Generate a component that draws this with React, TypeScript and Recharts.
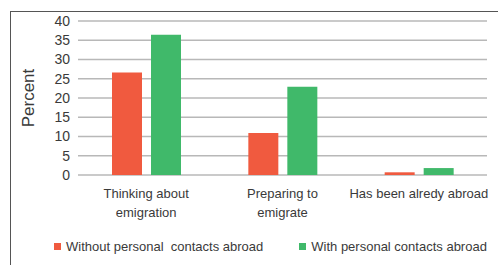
import React from 'react';
import { BarChart, Bar, XAxis, YAxis, CartesianGrid, Legend } from 'recharts';

const categories = ['Thinking about emigration', 'Preparing to emigrate', 'Has been alredy abroad'];
const categoryLines = [['Thinking about', 'emigration'], ['Preparing to', 'emigrate'], ['Has been alredy abroad']];
const withoutContacts = [26.6, 10.9, 0.7];
const withContacts = [36.4, 22.9, 1.8];
const yTicks = [0, 5, 10, 15, 20, 25, 30, 35, 40];

const seriesNames = ['Without personal  contacts abroad', 'With personal contacts abroad'];
const RED = '#f05a3f';
const GREEN = '#40b96a';
const FONT = '"Liberation Sans", Arial, sans-serif';
const TEXT = '#3a3a3a';

const chartData = categories.map((c, i) => ({
  category: c,
  without: withoutContacts[i],
  with: withContacts[i],
}));

function CategoryTick({ x, y, payload }: any) {
  const idx = categories.indexOf(payload.value);
  const lines = categoryLines[idx] || [payload.value];
  return (
    <text x={x} y={y} textAnchor="middle" fill={TEXT} fontSize={13} fontFamily={FONT}>
      {lines.map((l, i) => (
        <tspan key={i} x={x} dy={i === 0 ? 15 : 19}>{l}</tspan>
      ))}
    </text>
  );
}

function PercentLabel({ viewBox }: any) {
  const cx = viewBox.x + 0;
  const cy = viewBox.y + viewBox.height / 2;
  return (
    <text x={cx} y={cy} transform={`rotate(-90 ${cx} ${cy})`} textAnchor="middle" dominantBaseline="central"
      fill={TEXT} fontSize={17} fontFamily={FONT}>
      Percent
    </text>
  );
}

function LegendContent({ payload }: any) {
  const items = [...(payload || [])].sort((a: any, b: any) => seriesNames.indexOf(a.value) - seriesNames.indexOf(b.value));
  return (
    <div style={{ display: 'flex', height: 24, alignItems: 'center', paddingLeft: 26, gap: 36, fontFamily: FONT, fontSize: 13, color: TEXT }}>
      {items.map((p: any) => (
        <div key={p.value} style={{ display: 'flex', alignItems: 'center', whiteSpace: 'pre' }}>
          <span style={{ display: 'inline-block', width: 7, height: 7, background: p.color, marginRight: 5 }} />
          {p.value}
        </div>
      ))}
    </div>
  );
}

export default function App() {
  return (
    <div style={{ position: 'absolute', left: 0, top: 0, width: 498, height: 265, background: '#fff', overflow: 'hidden' }}>
      <div style={{ position: 'absolute', left: 10, top: 11, width: 500, height: 270, borderLeft: '1px solid #555', borderTop: '1px solid #555' }} />
      <BarChart width={498} height={265} data={chartData} margin={{ top: 21, right: 11, bottom: 7, left: 28 }}
        barSize={30} barGap={9} style={{ position: 'absolute', left: 0, top: 0 }}>
        <CartesianGrid vertical={false} stroke="#b8b8b8" strokeWidth={1.3} />
        <XAxis dataKey="category" axisLine={false} tickLine={false} height={59} interval={0} tick={<CategoryTick />} />
        <YAxis width={50} domain={[0, 40]} ticks={yTicks} interval={0} axisLine={false} tickLine={false}
          tick={{ fill: TEXT, fontSize: 14, fontFamily: FONT }} label={<PercentLabel />} />
        <Legend verticalAlign="bottom" content={<LegendContent />} />
        <Bar dataKey="without" name={seriesNames[0]} fill={RED} isAnimationActive={false} />
        <Bar dataKey="with" name={seriesNames[1]} fill={GREEN} isAnimationActive={false} />
      </BarChart>
    </div>
  );
}
